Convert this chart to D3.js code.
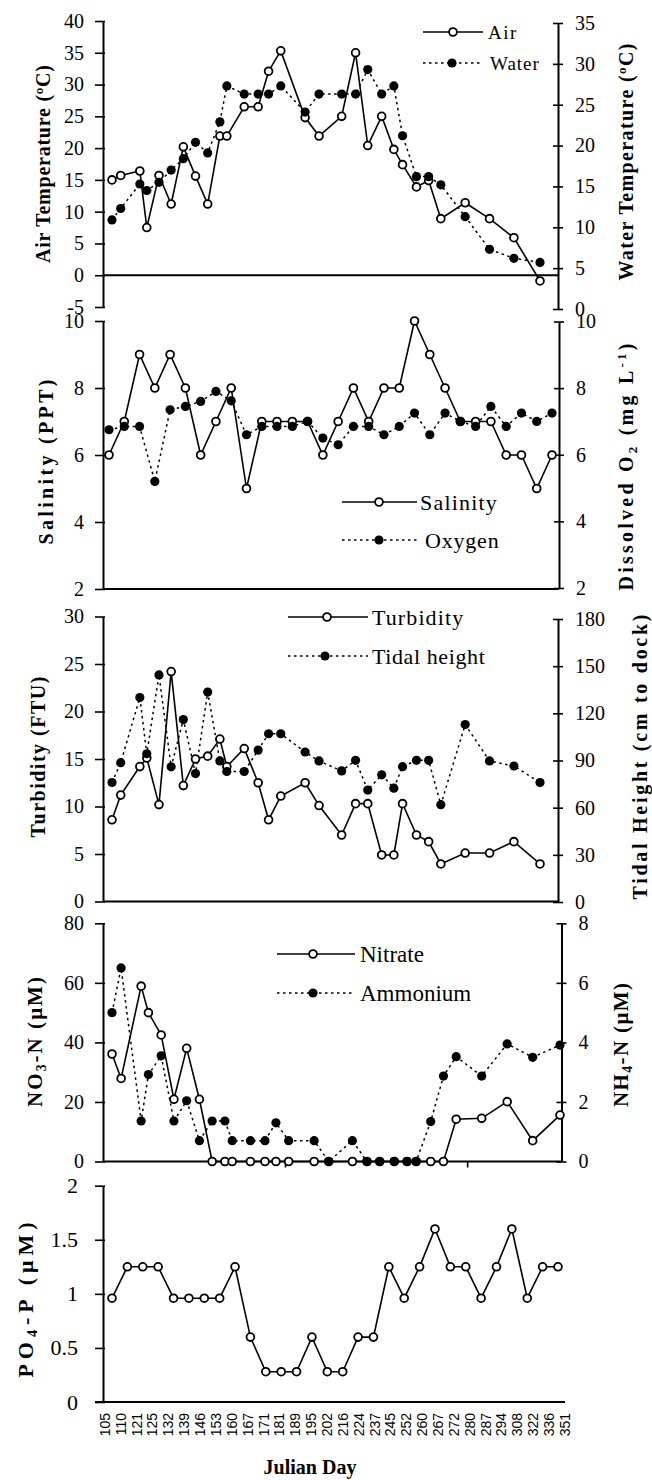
<!DOCTYPE html>
<html><head><meta charset="utf-8">
<script src="https://cdn.jsdelivr.net/npm/d3@7"></script>
<style>body{margin:0;background:#fff}svg{display:block}</style>
</head><body>
<svg id="chart" width="652" height="1480"></svg>
<script>
// ---------------- data ----------------
const days = [105,110,121,125,132,139,146,153,160,167,171,181,189,195,202,216,224,237,245,252,260,267,272,280,287,294,308,322,336,351];
const airTemp   = [15,15.7,16.4,7.5,15.7,11.2,20.2,15.6,11.2,21.9,21.9,26.5,26.5,32.1,35.3,24.8,21.9,25.0,35.0,20.4,25.0,19.8,17.4,13.9,14.9,8.9,11.4,8.9,5.9,-0.9];
const waterTemp = [10.9,12.3,15.3,14.5,15.5,17.0,18.4,20.4,19.1,22.9,27.3,26.3,26.3,26.3,27.3,24.1,26.3,26.3,26.3,29.3,26.3,27.3,21.2,16.2,16.2,15.2,11.3,7.3,6.2,5.7];
const salinity  = [6,7,9,8,9,8,6,7,8,5,7,7,7,7,6,7,8,7,8,8,10,9,8,7,7,7,6,6,5,6];
const oxygen    = [6.75,6.85,6.85,5.2,7.35,7.45,7.6,7.9,7.62,6.6,6.85,6.85,6.85,7.0,6.5,6.3,6.85,6.85,6.6,6.85,7.25,6.6,7.25,7.0,6.85,7.45,6.85,7.25,7.0,7.25];
const turbidity = [8.6,11.2,14.2,15.1,10.2,24.2,12.2,15.0,15.3,17.1,14.2,16.1,12.5,8.6,11.1,12.5,10.1,7.0,10.3,10.3,4.9,4.9,10.3,7.0,6.3,3.95,5.1,5.1,6.3,3.95];
const tidalHeight = [76,88.6,130,94.3,144.4,86,116,81.7,133.5,89.7,83,83,96.6,107,107,95.4,89.7,83.4,90.1,71.2,80.9,72.4,86.1,90.1,90.1,61.9,112.9,89.7,86.5,76];
const nitrate   = [36.1,27.9,58.9,50,42.5,20.9,38,20.9,0,0,0,0,0,0,0,0,0,0,0,0,0,0,0,0,0,14.2,14.5,20.1,7.0,15.6];
const ammonium  = [5.0,6.5,1.36,2.92,3.55,1.36,2.04,0.7,1.36,1.36,0.7,0.7,0.7,1.3,0.7,0.7,0,0.7,0,0,0,0,0,1.34,2.87,3.52,2.87,3.95,3.5,3.91];
const phosphate = [0.96,1.25,1.25,1.25,0.96,0.96,0.96,0.96,1.25,0.6,0.28,0.28,0.28,0.6,0.28,0.28,0.6,0.6,1.25,0.96,1.25,1.6,1.25,1.25,0.96,1.25,1.6,0.96,1.25,1.25];
const dayLabels = days.map(String);
const airTicks = [-5,0,5,10,15,20,25,30,35,40];
const waterTicks = [0,5,10,15,20,25,30,35];
const salTicks = [2,4,6,8,10];
const turbTicks = [0,5,10,15,20,25,30];
const tideTicks = [0,30,60,90,120,150,180];
const nitTicks = [0,20,40,60,80];
const ammTicks = [0,2,4,6,8];
const po4Ticks = [0,0.5,1,1.5,2];

// ---------------- setup ----------------
const serif = '"Liberation Serif","Times New Roman",Times,serif';
const sans = '"Liberation Sans",Arial,Helvetica,sans-serif';
const svg = d3.select('#chart');
const LX = 103;

function styleAxis(g, fs) {
  g.select('.domain').attr('stroke', '#000').attr('stroke-width', 2);
  g.selectAll('.tick line').attr('stroke', '#000').attr('stroke-width', 1.6);
  g.selectAll('.tick text').attr('font-family', serif).attr('font-size', fs).attr('fill', '#000');
}
function leftAxis(scale, ticks, fs, pad) {
  const g = svg.append('g').attr('transform', `translate(${LX},0)`)
    .call(d3.axisLeft(scale).tickValues(ticks).tickSizeInner(8).tickSizeOuter(0)
      .tickPadding(pad).tickFormat(d => String(d)));
  styleAxis(g, fs);
  g.selectAll('.tick line').attr('x1', 2);
}
function rightAxis(scale, ticks, x, fs) {
  const g = svg.append('g').attr('transform', `translate(${x},0)`)
    .call(d3.axisRight(scale).tickValues(ticks).tickSizeInner(5).tickSizeOuter(0)
      .tickPadding(12).tickFormat(d => String(d)));
  styleAxis(g, fs);
  g.selectAll('.tick line').attr('x1', -5);
}
function hline(y, x1, x2) {
  svg.append('line').attr('x1', x1).attr('x2', x2).attr('y1', y).attr('y2', y)
    .attr('stroke', '#000').attr('stroke-width', 2);
}
function series(xf, yScale, vals, dotted, filled) {
  const pts = vals.map((v, i) => ({ x: xf(days[i]), y: yScale(v) }));
  svg.append('path').datum(pts)
    .attr('d', d3.line().x(d => d.x).y(d => d.y))
    .attr('fill', 'none').attr('stroke', '#000')
    .attr('stroke-width', dotted ? 1.5 : 1.6)
    .attr('stroke-dasharray', dotted ? '2.5,3.5' : null);
  return pts;
}
function markers(pts, filled) {
  svg.append('g').selectAll('circle').data(pts).join('circle')
    .attr('cx', d => d.x).attr('cy', d => d.y)
    .attr('r', filled ? 4.6 : 3.9)
    .attr('fill', filled ? '#000' : '#fff')
    .attr('stroke', '#000').attr('stroke-width', filled ? 0 : 1.8);
}
function legendItem(x1, x2, cx, y, label, tx, fs, ls, filled) {
  svg.append('line').attr('x1', x1).attr('x2', x2).attr('y1', y).attr('y2', y)
    .attr('stroke', '#000').attr('stroke-width', filled ? 1.5 : 1.6)
    .attr('stroke-dasharray', filled ? '2.5,3.5' : null);
  svg.append('circle').attr('cx', cx).attr('cy', y).attr('r', filled ? 4.6 : 3.9)
    .attr('fill', filled ? '#000' : '#fff').attr('stroke', '#000')
    .attr('stroke-width', filled ? 0 : 1.8);
  svg.append('text').attr('x', tx).attr('y', y).attr('dy', '0.35em')
    .attr('font-family', serif).attr('font-size', fs).attr('letter-spacing', ls)
    .text(label);
}
// rotated title; parts: [text, kind] kind: '', 'sub', 'sup'
function title(x, y, parts, fs, len) {
  const t = svg.append('text').attr('transform', `translate(${x},${y}) rotate(-90)`)
    .attr('text-anchor', 'middle').attr('font-family', serif)
    .attr('font-weight', 'bold').attr('font-size', fs);
  if (len) t.attr('textLength', len).attr('lengthAdjust', 'spacing');
  let shift = 0;
  parts.forEach(([s, k]) => {
    const target = k === 'sub' ? 4 : k === 'sup' ? -7 : 0;
    const ts = t.append('tspan').attr('dy', target - shift).text(s);
    if (k) ts.attr('font-size', fs * 0.65);
    shift = target;
  });
}

// ---------------- scales ----------------
const xDayA = d3.scaleLinear([105, 351], [112, 540]);   // panels 1 & 3
const xDayN = d3.scaleLinear([105, 351], [112, 560]);   // panel 4
const xCatS = d3.scalePoint(days, [109, 552]);          // panel 2
const xCatP = d3.scalePoint(days, [112, 558]);          // panel 5
const xLab  = d3.scalePoint(dayLabels, [105, 565]);     // tick labels

// ---------------- panel 1: temperature ----------------
const yAir = d3.scaleLinear([-5, 40], [307, 21]);
const yWater = d3.scaleLinear([0, 35], [309, 23]);
hline(yAir(0), LX, 558);
leftAxis(yAir, airTicks, 20, 11);
rightAxis(yWater, waterTicks, 558, 20);
const pAir = series(xDayA, yAir, airTemp, false);
const pWat = series(xDayA, yWater, waterTemp, true);
markers(pAir, false); markers(pWat, true);
legendItem(423, 483, 453, 32, 'Air', 488, 19, 1.5, false);
legendItem(423, 483, 452, 63, 'Water', 490, 19, 1, true);
title(50, 164, [['Air Temperature ('], ['o', 'sup'], ['C)']], 20, 198);
title(633, 162, [['Water Temperature ('], ['o', 'sup'], ['C)']], 20, 237);

// ---------------- panel 2: salinity / oxygen ----------------
const ySal = d3.scaleLinear([2, 10], [589, 321]);
const yOxy = d3.scaleLinear([2, 10], [588, 321.5]);
hline(589, LX, 559);
leftAxis(ySal, salTicks, 20, 11);
rightAxis(yOxy, salTicks, 559, 20);
const pSal = series(xCatS, ySal, salinity, false);
const pOxy = series(xCatS, yOxy, oxygen, true);
markers(pSal, false); markers(pOxy, true);
legendItem(342, 417, 379, 502, 'Salinity', 420, 22, 1.2, false);
legendItem(342, 417, 379, 540, 'Oxygen', 425, 22, 0.8, true);
title(53, 462, [['Salinity (PPT)']], 20, 165);
title(633, 467, [['Dissolved O'], ['2', 'sub'], [' (mg L'], ['-1', 'sup'], [')']], 20, 247);

// ---------------- panel 3: turbidity / tidal ----------------
const yTurb = d3.scaleLinear([0, 30], [901.5, 616.5]);
const yTide = d3.scaleLinear([0, 180], [902, 619]);
hline(901.5, LX, 558);
leftAxis(yTurb, turbTicks, 20, 11);
rightAxis(yTide, tideTicks, 558, 20);
const pTur = series(xDayA, yTurb, turbidity, false);
const pTid = series(xDayA, yTide, tidalHeight, true);
markers(pTur, false); markers(pTid, true);
legendItem(288, 368, 327, 617, 'Turbidity', 372, 22, 1.1, false);
legendItem(288, 368, 325, 656, 'Tidal height', 372, 22, 0.6, true);
title(45, 757, [['Turbidity (FTU)']], 20, 161);
title(647, 757, [['Tidal Height (cm to dock)']], 20, 285);

// ---------------- panel 4: nitrate / ammonium ----------------
const yNit = d3.scaleLinear([0, 80], [1161.5, 923.3]);
const yAmm = d3.scaleLinear([0, 8], [1161.5, 923.3]);
hline(1161.5, LX, 561.5);
svg.append('g').attr('transform', 'translate(0,1161.5)')
  .call(d3.axisBottom(xDayN).tickValues([200, 300]).tickSize(6).tickFormat(''))
  .call(g => g.select('.domain').remove())
  .selectAll('line').attr('stroke', '#000').attr('stroke-width', 1.6);
leftAxis(yNit, nitTicks, 20, 11);
rightAxis(yAmm, ammTicks, 561.5, 20);
const pNit = series(xDayN, yNit, nitrate, false);
const pAmm = series(xDayN, yAmm, ammonium, true);
markers(pNit, false); markers(pAmm, true);
legendItem(277, 355, 313, 954, 'Nitrate', 360, 23, 0, false);
legendItem(277, 355, 313, 993, 'Ammonium', 360, 23, 0, true);
title(42, 1042, [['NO'], ['3', 'sub'], ['-N ('], ['\u03bc'], ['M)']], 21, 130);
title(628, 1045, [['NH'], ['4', 'sub'], ['-N ('], ['\u03bc'], ['M)']], 21, 124);

// ---------------- panel 5: phosphate ----------------
const yPO4 = d3.scaleLinear([0, 2], [1402, 1185.7]);
hline(1402, 95, 565);
leftAxis(yPO4, po4Ticks, 22, 17);
const pPO4 = series(xCatP, yPO4, phosphate, false);
markers(pPO4, false);
title(33, 1300, [['PO'], ['4', 'sub'], ['-P ('], ['\u03bc'], ['M)']], 22, 155);

// x tick labels
svg.append('g').selectAll('text').data(dayLabels).join('text')
  .attr('transform', d => `translate(${xLab(d)},1413) rotate(-90)`)
  .attr('text-anchor', 'end').attr('dy', '0.35em')
  .attr('font-family', sans).attr('font-size', 14).text(d => d);
svg.append('text').attr('x', 310).attr('y', 1474).attr('text-anchor', 'middle')
  .attr('font-family', serif).attr('font-weight', 'bold').attr('font-size', 20)
  .text('Julian Day');
</script>
</body></html>
